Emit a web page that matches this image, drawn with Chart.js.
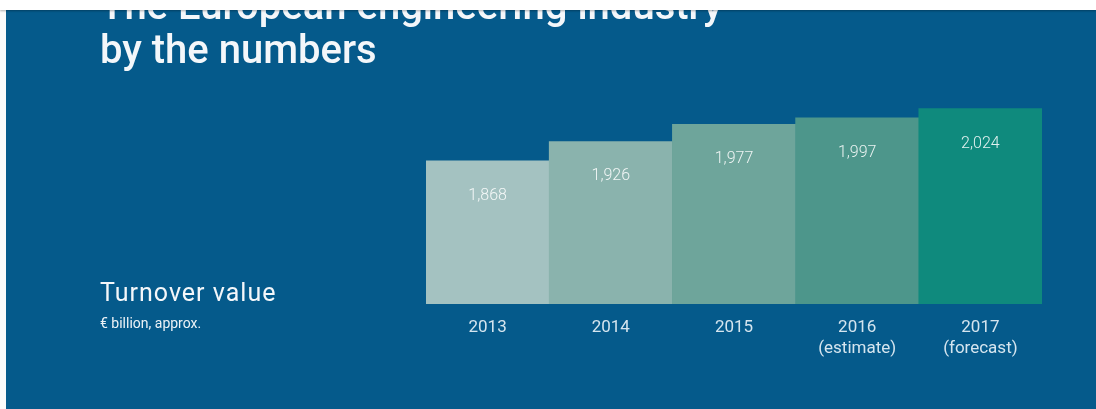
<!DOCTYPE html>
<html>
<head>
<meta charset="utf-8">
<script src="https://cdn.jsdelivr.net/npm/chart.js@4"></script>
<style>
  body { margin: 0; width: 1096px; height: 409px; background: #fafafa; overflow: hidden; position: relative; font-family: Roboto, "Liberation Sans", sans-serif; }
  #panel { position: absolute; left: 6px; top: 0; right: 0; bottom: 0; background: #055a8b; }
  #topbar { position: absolute; left: 0; top: 0; width: 1096px; height: 10px; background: #fff; box-shadow: 0 1px 2px rgba(0,0,0,0.3); z-index: 5; }
  #title { position: absolute; left: 100px; top: -16px; font-size: 40px; font-weight: 500; line-height: 44px; color: #f4f7fa; z-index: 2; }
  #measure { position: absolute; left: 100px; top: 280px; font-size: 25px; line-height: 25px; color: #f4f7fa; letter-spacing: 1px; z-index: 2; }
  #unit { position: absolute; left: 100px; top: 316px; font-size: 14px; line-height: 14px; color: #eef3f7; z-index: 2; }
  #wrap { position: absolute; left: 0; top: 0; width: 1096px; height: 409px; z-index: 1; }
</style>
</head>
<body>
<div id="panel"></div>
<div id="topbar"></div>
<div id="title">The European engineering industry<br>by the numbers</div>
<div id="measure">Turnover value</div>
<div id="unit">€ billion, approx.</div>
<div id="wrap"><canvas id="myChart" width="1096" height="409"></canvas></div>
<script>
// chart data
const years = ["2013", "2014", "2015", "2016", "2017"];
const yearNotes = ["", "", "", "(estimate)", "(forecast)"];
const turnover = [1868, 1926, 1977, 1997, 2024];
const valueLabels = ["1,868", "1,926", "1,977", "1,997", "2,024"];
const barColors = ["#a4c2c1", "#8ab3ad", "#6ea59b", "#4d968b", "#0f8a7d"];

const tickLabels = years.map((y, i) => yearNotes[i] ? [y, yearNotes[i]] : y);

// numbers written inside the top of each bar
const valueLabelPlugin = {
  id: "valueLabels",
  afterDatasetsDraw(chart) {
    const ctx = chart.ctx;
    const meta = chart.getDatasetMeta(0);
    ctx.save();
    ctx.font = "300 16px Roboto";
    ctx.fillStyle = "rgba(255, 255, 255, 0.88)";
    ctx.textAlign = "center";
    ctx.textBaseline = "middle";
    meta.data.forEach((bar, i) => {
      ctx.fillText(valueLabels[i], bar.x, bar.y + 35);
    });
    ctx.restore();
  }
};

const ctx = document.getElementById("myChart");
const myChart = new Chart(ctx, {
  type: "bar",
  data: {
    labels: tickLabels,
    datasets: [
      {
        label: "Turnover value",
        data: turnover,
        backgroundColor: barColors,
        borderWidth: 0,
        barPercentage: 1,
        categoryPercentage: 1
      }
    ]
  },
  options: {
    responsive: false,
    animation: false,
    layout: {
      padding: { left: 426, right: 54, top: 100, bottom: 15 }
    },
    plugins: {
      legend: { display: false },
      tooltip: { enabled: false }
    },
    scales: {
      x: {
        grid: { display: false, drawTicks: false },
        border: { display: false },
        ticks: {
          color: "#d5e5ef",
          font: { family: "Roboto", size: 17 },
          padding: 14,
          maxRotation: 0
        },
        afterFit: (scale) => { scale.height = 90; }
      },
      y: {
        display: false,
        min: 1440,
        max: 2050
      }
    }
  },
  plugins: [valueLabelPlugin]
});
</script>
</body>
</html>
